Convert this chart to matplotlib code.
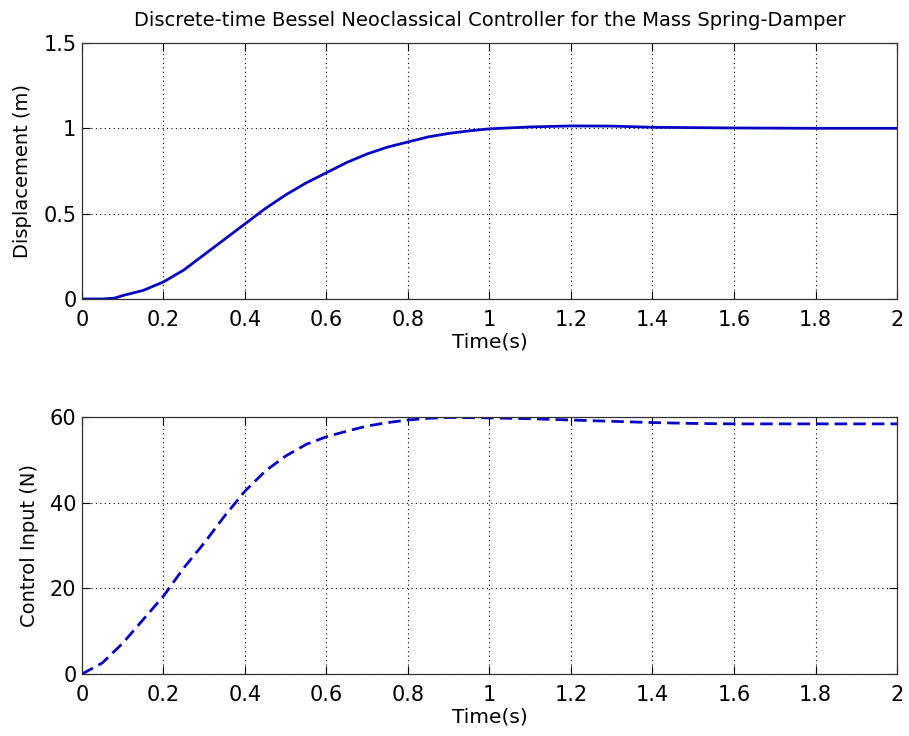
import numpy as np
import matplotlib
matplotlib.use('Agg')
import matplotlib.pyplot as plt

plt.rcParams['font.family'] = ['DejaVu Sans']

#---displacement response
t_disp = [0, 0.05, 0.08, 0.1, 0.15, 0.2, 0.25, 0.3, 0.35, 0.4, 0.45, 0.5, 0.55,
          0.6, 0.65, 0.7, 0.75, 0.8, 0.85, 0.9, 0.95, 1.0, 1.1, 1.2, 1.3, 1.4,
          1.6, 1.8, 2.0]
disp = [0, 0.0, 0.005, 0.02, 0.05, 0.1, 0.17, 0.26, 0.35, 0.44, 0.53, 0.61, 0.68,
        0.74, 0.80, 0.85, 0.89, 0.92, 0.95, 0.97, 0.985, 0.997, 1.008, 1.014, 1.013,
        1.006, 1.002, 1.0, 1.0]

#---control input
t_u = [0, 0.05, 0.1, 0.15, 0.2, 0.25, 0.3, 0.35, 0.4, 0.45, 0.5, 0.55, 0.6,
       0.65, 0.7, 0.75, 0.8, 0.85, 0.9, 1.0, 1.1, 1.2, 1.3, 1.4, 1.5, 1.6,
       1.8, 2.0]
u = [0, 2.6, 7.2, 12.7, 18.2, 24.8, 30.6, 36.9, 42.7, 47.4, 50.9, 53.6, 55.4,
     56.7, 57.9, 58.7, 59.3, 59.7, 59.9, 59.8, 59.6, 59.3, 59.0, 58.7, 58.5,
     58.4, 58.4, 58.4]

xticks = [0, 0.2, 0.4, 0.6, 0.8, 1, 1.2, 1.4, 1.6, 1.8, 2]
xticklabels = ['0', '0.2', '0.4', '0.6', '0.8', '1', '1.2', '1.4', '1.6', '1.8', '2']

clr = '#0606c4'
fs = 15

fig = plt.figure(figsize=(9.09, 7.36), dpi=100)
ax1 = fig.add_axes([0.0902, 0.5938, 0.8966, 0.3478])
ax2 = fig.add_axes([0.0902, 0.0842, 0.8966, 0.3492])


def style(ax):
    ax.set_xlim(0, 2)
    ax.set_xticks(xticks)
    ax.set_xticklabels(xticklabels)
    ax.grid(True, linestyle=(0, (1, 3)), color='black', linewidth=0.8)
    ax.tick_params(direction='in', top=True, right=True, labelsize=fs,
                   length=6, width=0.8)
    ax.tick_params(axis='x', pad=8)
    ax.tick_params(axis='y', pad=4)
    for s in ax.spines.values():
        s.set_linewidth(0.9)
        s.set_color('#333333')
    ax.set_xlabel('Time(s)', fontsize=14.5, labelpad=2)


ax1.plot(t_disp, disp, color=clr, linewidth=2)
style(ax1)
ax1.set_ylim(0, 1.5)
ax1.set_yticks([0, 0.5, 1, 1.5])
ax1.set_yticklabels(['0', '0.5', '1', '1.5'])
ax1.set_ylabel('Displacement (m)', fontsize=14, labelpad=8)
ax1.set_title('Discrete-time Bessel Neoclassical Controller for the Mass Spring-Damper',
              fontsize=14, pad=12)

ax2.plot(t_u, u, color=clr, linewidth=2, linestyle=(0, (4.5, 2.2)))
style(ax2)
ax2.set_ylim(0, 60)
ax2.set_yticks([0, 20, 40, 60])
ax2.set_ylabel('Control Input (N)', fontsize=14, labelpad=8)

fig.savefig('out.png', dpi=100)
